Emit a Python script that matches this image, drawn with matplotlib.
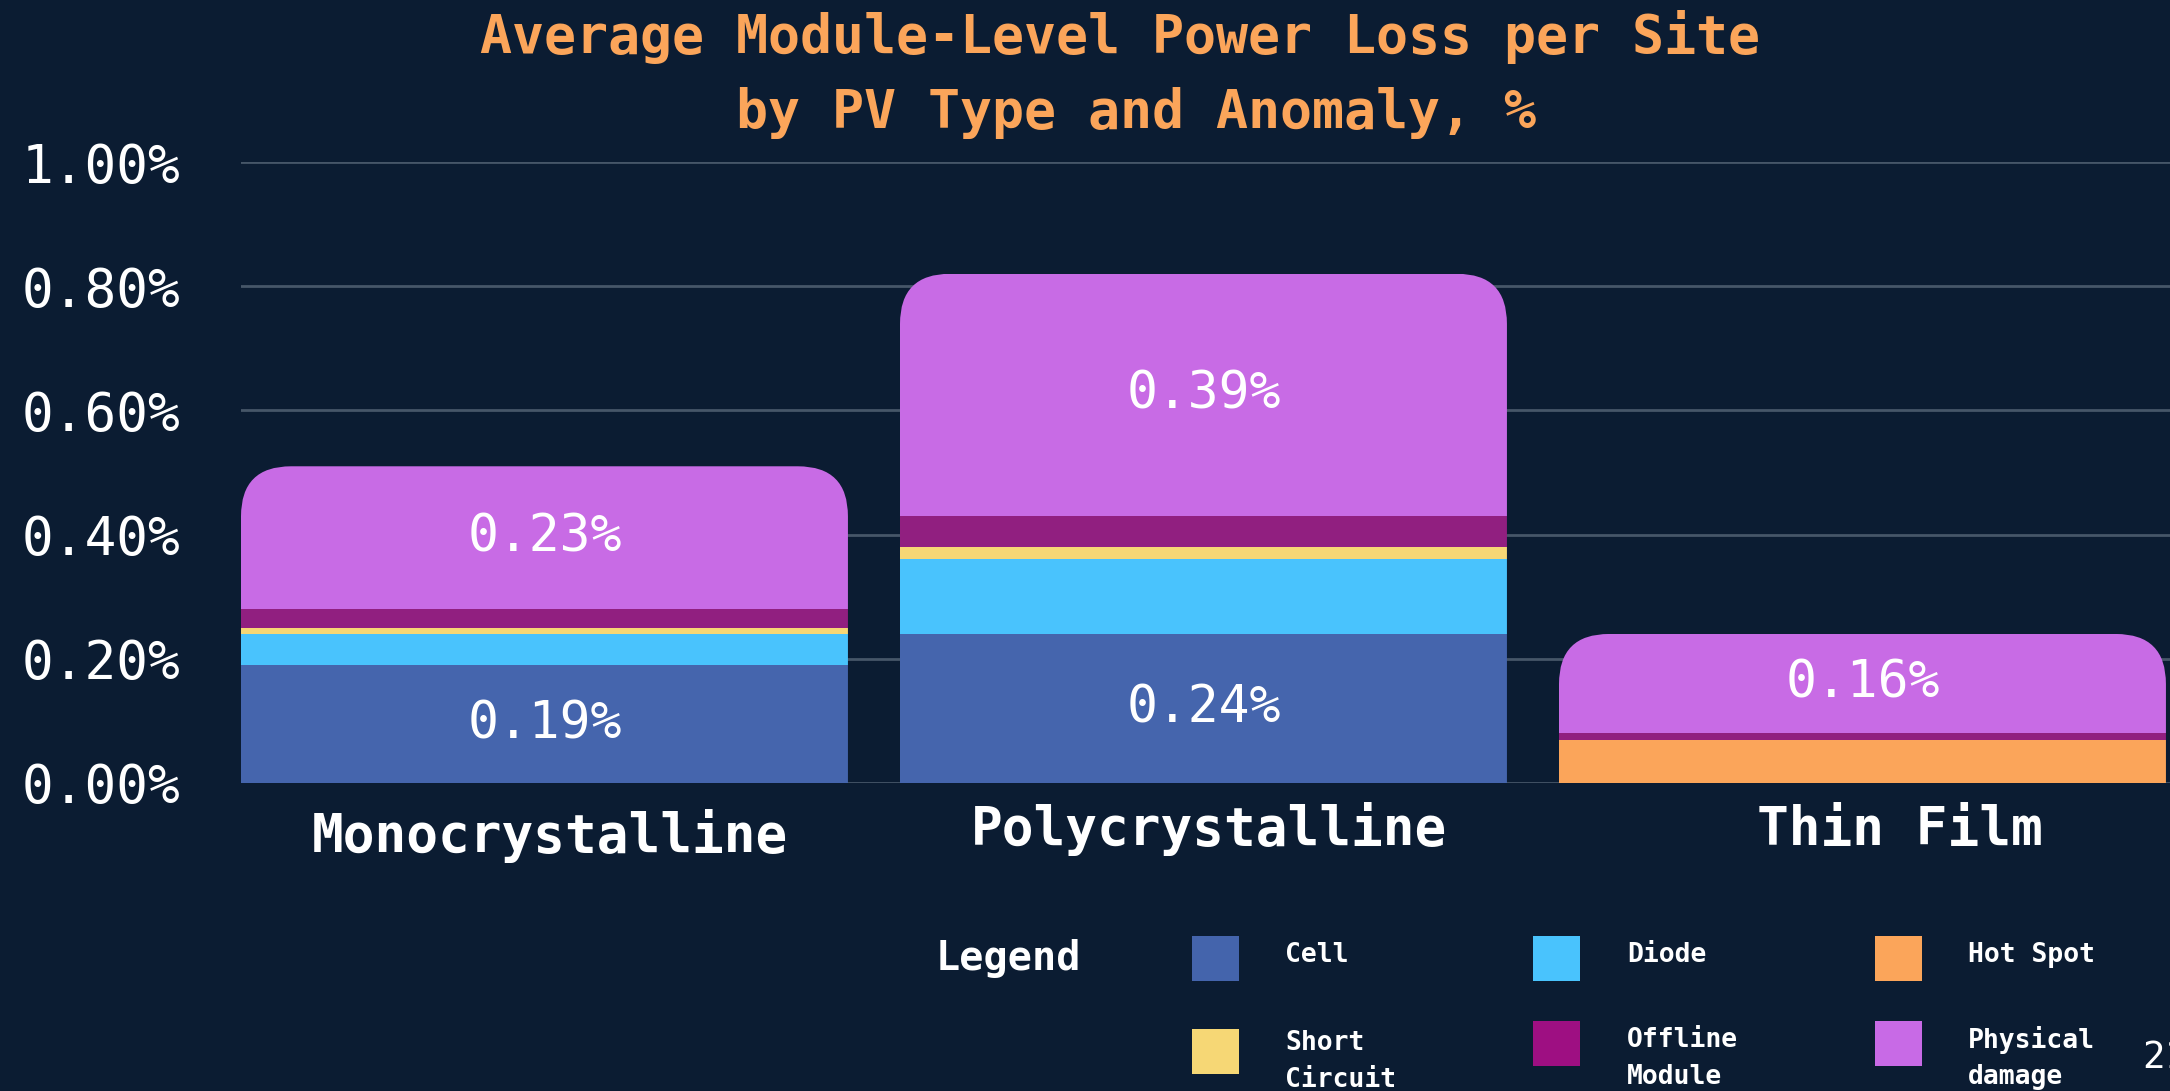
import matplotlib
matplotlib.use("Agg")
import matplotlib.pyplot as plt
from matplotlib.patches import FancyBboxPatch, Rectangle
from matplotlib.transforms import IdentityTransform
import numpy as np

# ---------------- data ----------------
pv_types = ["Monocrystalline", "Polycrystalline", "Thin Film"]
anomalies = ["Cell", "Diode", "Hot Spot", "Short Circuit", "Offline Module", "Physical damage"]
cell = [0.19, 0.24, 0.00]
diode = [0.05, 0.12, 0.00]
hot_spot = [0.00, 0.00, 0.07]
short_circuit = [0.01, 0.02, 0.00]
offline_module = [0.03, 0.05, 0.01]
physical_damage = [0.23, 0.39, 0.16]
y_ticks = [0.0, 0.2, 0.4, 0.6, 0.8, 1.0]
title_lines = ["Average Module-Level Power Loss per Site", "by PV Type and Anomaly, %"]
page_number = "21"

# stacking order bottom -> top
stack_series = [cell, diode, hot_spot, short_circuit, offline_module, physical_damage]
bar_colors = ["#4565AD", "#49C3FD", "#FBA55A", "#F6D775", "#911F80", "#C86BE5"]
legend_colors = ["#4464AC", "#49C3FD", "#FBA55A", "#F6D775", "#9E0F82", "#C86AE6"]

BG = "#0B1C32"
GRID = "#465668"
ORANGE = "#FBA55A"
FONT = "DejaVu Sans Mono"

W, H, DPI = 2170, 1091, 100
fig = plt.figure(figsize=(W / DPI, H / DPI), dpi=DPI, facecolor=BG)

def fx(px):
    return px / W

def fy(py):
    return 1 - py / H

# axes in pixel layout
ax_left, ax_right, ax_top, ax_bottom = 241, 2170, 162, 783
ax = fig.add_axes([fx(ax_left), fy(ax_bottom), (ax_right - ax_left) / W, (ax_bottom - ax_top) / H])
ax.set_facecolor(BG)

bw = 0.921
px_per_unit = 659.0
x = np.arange(len(pv_types))
ax.set_xlim(-bw / 2, -bw / 2 + (ax_right - ax_left) / px_per_unit)
ax.set_ylim(0, 1.0)

ax.set_axisbelow(True)
ax.yaxis.grid(True, color=GRID, linewidth=2.0)
ax.xaxis.grid(False)
for s in ax.spines.values():
    s.set_visible(False)

ax.set_yticks(y_ticks)
ax.set_yticklabels([f"{t:.2f}%" for t in y_ticks], fontfamily=FONT, fontsize=38, color="white")
ax.tick_params(axis="y", length=0, pad=44)
for lbl in ax.get_yticklabels():
    lbl.set_clip_on(False)
ax.set_xticks([])

# stacked bars
containers = []
bottom = np.zeros(len(pv_types))
for vals, col in zip(stack_series, bar_colors):
    v = np.array(vals, dtype=float)
    bc = ax.bar(x, v, width=bw, bottom=bottom, color=col, linewidth=0, zorder=2)
    containers.append((bc, v, bottom.copy()))
    bottom = bottom + v
totals = bottom

# rounded top corners via clip path in pixel space
for i in range(len(pv_types)):
    x0, y0 = ax.transData.transform((i - bw / 2, 0))
    x1, y1 = ax.transData.transform((i + bw / 2, totals[i]))
    clip = FancyBboxPatch((x0, y0 - 200), x1 - x0, (y1 - y0) + 200,
                          boxstyle="round,pad=0,rounding_size=50",
                          transform=IdentityTransform())
    for bc, v, b in containers:
        bc.patches[i].set_clip_path(clip)

# value labels
for bc, v, b in containers:
    for i in range(len(pv_types)):
        if v[i] >= 0.15:
            ax.text(i, b[i] + v[i] / 2, f"{v[i]:.2f}%", ha="center", va="center",
                    fontfamily=FONT, fontsize=37, color="white", zorder=5)

# category labels
dx_px = [5, 6, 37]
base_px = [852, 845, 845]
for i, name in enumerate(pv_types):
    ax.annotate(name, xy=(i, 0), xycoords=("data", "axes fraction"),
                xytext=(dx_px[i] * 72 / DPI, -(base_px[i] - ax_bottom) * 72 / DPI),
                textcoords="offset points", ha="center", va="baseline",
                fontfamily=FONT, fontweight="bold", fontsize=38, color="white",
                annotation_clip=False)

# title
fig.text(fx(1120), fy(53), title_lines[0], ha="center", va="baseline",
         fontfamily=FONT, fontweight="bold", fontsize=38.3, color=ORANGE)
fig.text(fx(1136), fy(128), title_lines[1], ha="center", va="baseline",
         fontfamily=FONT, fontweight="bold", fontsize=38.3, color=ORANGE)

# legend (manual grid)
fig.text(fx(936), fy(959), "Legend", ha="left", va="center",
         fontfamily=FONT, fontweight="bold", fontsize=29, color="white")
order = [0, 1, 2, 3, 4, 5]
sw_x = [1192, 1533, 1875, 1192, 1533, 1875]
sw_top = [936, 936, 936, 1029, 1021, 1021]
tx_x = [1285, 1627, 1968, 1285, 1627, 1968]
tx_y = [955, 955, 955, 1043, 1040, 1040]
sw_w, sw_h = 47, 45
for k, idx in enumerate(order):
    fig.add_artist(Rectangle((fx(sw_x[k]), fy(sw_top[k] + sw_h)), sw_w / W, sw_h / H,
                             transform=fig.transFigure, facecolor=legend_colors[idx],
                             edgecolor="none"))
    words = anomalies[idx].split(" ")
    lines = [anomalies[idx]] if anomalies[idx] == "Hot Spot" else words
    for j, line in enumerate(lines):
        fig.text(fx(tx_x[k]), fy(tx_y[k] + 37 * j), line, ha="left", va="center",
                 fontfamily=FONT, fontweight="bold", fontsize=19, color="white")

# page number (partially cut at right edge, as in the reference)
fig.text(fx(2142), fy(1058), page_number, ha="left", va="center",
         fontfamily=FONT, fontsize=27, color="white")

fig.savefig("out.png", dpi=DPI, facecolor=BG)
